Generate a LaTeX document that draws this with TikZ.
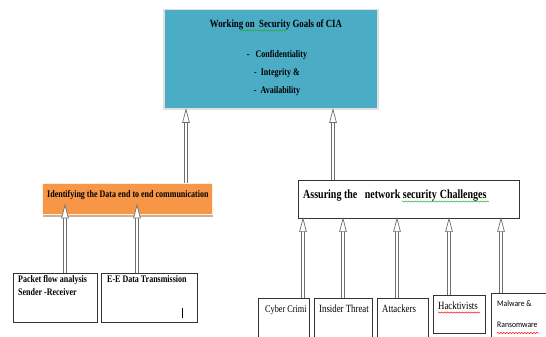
\documentclass[tikz,border=0pt]{standalone}
\usepackage{fontspec}
\setmainfont{Liberation Serif}[FakeStretch=0.8]
\newfontfamily\calfont{Carlito}[FakeStretch=0.9]
\usetikzlibrary{arrows.meta,decorations.pathmorphing,decorations.markings}
\definecolor{tealbg}{RGB}{75,172,198}
\definecolor{orangebg}{RGB}{247,150,70}
\definecolor{shadowc}{RGB}{205,175,150}
\definecolor{spellgreen}{RGB}{40,170,40}
\definecolor{arrowc}{RGB}{110,110,110}
\tikzset{
  box/.style={draw=black!80, line width=0.6pt, fill=white, inner sep=0pt, anchor=north west},
  tealbox/.style={draw=black!12, line width=1.5pt, fill=tealbg, inner sep=0pt, anchor=north west},
  orangebox/.style={draw=white!85!orangebg, line width=1pt, fill=orangebg, inner sep=0pt, anchor=north west},
  txt/.style={inner sep=0pt, anchor=base west},
  ctxt/.style={inner sep=0pt, anchor=base},
  shaftout/.style={draw=arrowc, line width=3.4pt, shorten >=12pt},
  shaftin/.style={draw=white, line width=1.6pt, shorten >=11pt, shorten <=0.5pt},
  headmark/.style={decorate, decoration={markings, mark=at position 1 with {
      \draw[arrowc, line width=0.7pt, fill=white, line join=miter]
        (0pt,0pt) -- (-13pt,3.4pt) -- (-13pt,-3.4pt) -- cycle;}}},
  wavy/.style={decorate, decoration={snake, amplitude=0.6pt, segment length=3pt}, line width=0.5pt},
}
\begin{document}
\begin{tikzpicture}[x=1pt,y=-1pt]
\useasboundingbox (0,0) rectangle (546,337);

% top box
\node[tealbox, minimum width=214pt, minimum height=99pt] (goals) at (163,9) {};
\node[ctxt, font=\bfseries\fontsize{11}{13}\selectfont] (gt) at (276,27.5) {Working on\ \ Security Goals of CIA};
\node[ctxt, font=\bfseries\fontsize{10}{12}\selectfont] (g1) at (277,58) {-\ \ \ Confidentiality};
\node[ctxt, font=\bfseries\fontsize{10}{12}\selectfont] (g2) at (277,76) {-\ \ Integrity \&};
\node[ctxt, font=\bfseries\fontsize{10}{12}\selectfont] (g3) at (277,93) {-\ \ Availability};
\draw[spellgreen, wavy] (240,30.5) -- (287,30.5);

% orange box
\draw[shadowc, line width=2pt] (43,215.5) -- (213,215.5);
\node[orangebox, minimum width=170pt, minimum height=31pt] (ident) at (42,183) {};
\node[txt, font=\bfseries\fontsize{10}{12}\selectfont] (it) at (47,197) {Identifying the Data end to end communication};

% assure box
\node[box, minimum width=221pt, minimum height=38pt] (assure) at (298,180) {};
\node[txt, font=\bfseries\fontsize{12.5}{15}\selectfont] (at) at (303,198) {Assuring the\ \ \ network security\ \kern0.5pt Challenges};
\draw[spellgreen, wavy] (402,201.5) -- (489,201.5);

% left bottom boxes
\node[box, minimum width=84pt, minimum height=49pt] (packet) at (13,273) {};
\node[txt, font=\bfseries\fontsize{10}{12}\selectfont] (p1) at (18,282) {Packet flow analysis};
\node[txt, font=\bfseries\fontsize{10}{12}\selectfont] (p2) at (18,295) {Sender -Receiver};
\node[box, minimum width=96pt, minimum height=49pt] (ee) at (101,273) {};
\node[txt, font=\bfseries\fontsize{10}{12}\selectfont] (e1) at (107,282) {E-E Data Transmission};
\coordinate (cur) at (182,308);
\draw[black, line width=0.9pt] (cur) -- ++(0,10);

% right bottom boxes
\node[box, minimum width=51pt, minimum height=45pt] (cyber) at (258,298) {};
\node[txt, font=\fontsize{10.3}{12}\selectfont] (c1) at (265,312) {Cyber Crimi};
\node[box, minimum width=58pt, minimum height=45pt] (insider) at (314,298) {};
\node[txt, font=\fontsize{11}{13}\selectfont] (i1) at (319,312) {Insider Threat};
\node[box, minimum width=51pt, minimum height=45pt] (attack) at (377,298) {};
\node[txt, font=\fontsize{11}{13}\selectfont] (a1) at (382,312) {Attackers};
\node[box, line width=0.9pt, minimum width=52pt, minimum height=38pt] (hack) at (433,295) {};
\node[txt, font=\fontsize{11}{13}\selectfont] (h1) at (438,309) {Hacktivists};
\draw[red, wavy] (438,312.5) -- (480,312.5);
\node[box, minimum width=60pt, minimum height=50pt] (malware) at (491,293) {};
\node[txt, font=\calfont\fontsize{8.5}{10}\selectfont] (m1) at (497,306) {Malware \&};
\node[txt, font=\calfont\fontsize{8.5}{10}\selectfont] (m2) at (497,327) {Ransomware};
\draw[red, wavy] (497,333) -- (539,333);

% arrow columns
\coordinate (xa) at (186,0);
\coordinate (xb) at (333,0);
\coordinate (xc) at (65,0);
\coordinate (xd) at (137,0);
\coordinate (tipc) at (65,205);
\coordinate (tipd) at (137,205);
\coordinate (x1) at (303,0);
\coordinate (x2) at (343,0);
\coordinate (x3) at (397,0);
\coordinate (x4) at (449,0);
\coordinate (x5) at (501,0);

% arrows: outer shaft, inner shaft, open head
\foreach \s/\t in {ident.north -| xa/goals.south -| xa, assure.north -| xb/goals.south -| xb,
  packet.north -| xc/tipc, ee.north -| xd/tipd,
  cyber.north -| x1/assure.south -| x1, insider.north -| x2/assure.south -| x2,
  attack.north -| x3/assure.south -| x3, hack.north -| x4/assure.south -| x4,
  malware.north -| x5/assure.south -| x5}{
  \draw[shaftout] (\s) -- (\t);
  \draw[shaftin] (\s) -- (\t);
  \path[headmark] (\s) -- (\t);
}
\end{tikzpicture}
\end{document}
